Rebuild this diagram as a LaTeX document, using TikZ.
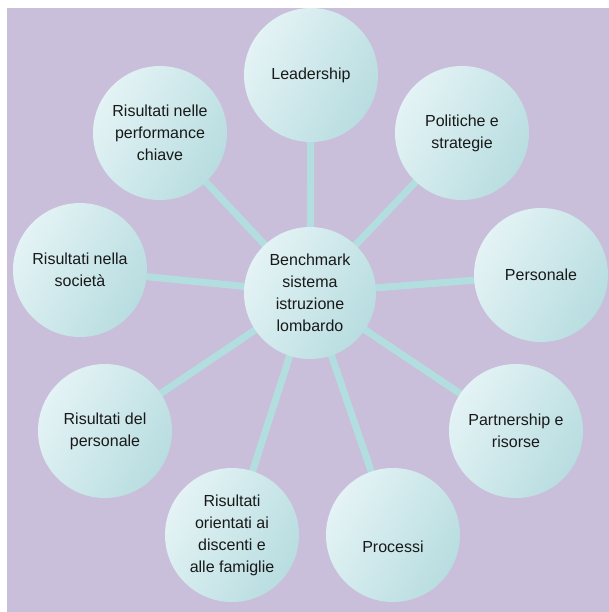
\documentclass[tikz,border=0pt]{standalone}
\usepackage{fontspec}
\setmainfont{Liberation Sans}
\definecolor{bgpurple}{HTML}{C9BFDA}
\definecolor{ballA}{HTML}{E4F3F5}
\definecolor{ballB}{HTML}{B8DDE0}
\definecolor{spoke}{HTML}{B3DEDF}
\begin{document}
\begin{tikzpicture}[x=0.75pt,y=-0.75pt,
  balltext/.style={align=center,font=\fontsize{12pt}{16.5pt}\selectfont,text=black!90},
  ball/.style={circle,minimum size=100.5pt,inner sep=0pt,balltext,
    left color=ballA,right color=ballB,shading angle=60},
  spokeline/.style={draw=spoke,line width=5.25pt}]
\useasboundingbox (0,0) rectangle (609,612);
\fill[white] (0,0) rectangle (609,612);
\fill[bgpurple] (7,8) rectangle (609,612);
% positions
\coordinate (cC) at (310,293);
\coordinate (cL) at (311,75);
\coordinate (cP) at (462,133);
\coordinate (cPe) at (541,275);
\coordinate (cPa) at (516,431);
\coordinate (cPr) at (393,535);
\coordinate (cRo) at (232,535);
\coordinate (cRp) at (105,431);
\coordinate (cRs) at (80,270);
\coordinate (cRk) at (160,133);
% spokes
\foreach \t in {cL,cP,cPe,cPa,cPr,cRo,cRp,cRs,cRk}
  \draw[spokeline] (cC) -- (\t);
% circles
\node[ball] (L) at (cL) {Leadership};
\node[ball] (P) at (cP) {Politiche e\\strategie};
\node[ball] (Pe) at (cPe) {Personale};
\node[ball] (Pa) at (cPa) {Partnership e\\risorse};
\node[ball,label={[balltext,yshift=-9pt]center:Processi}] (Pr) at (cPr) {};
\node[ball] (Ro) at (cRo) {Risultati\\orientati ai\\discenti e\\alle famiglie};
\node[ball] (Rp) at (cRp) {Risultati del\\personale};
\node[ball] (Rs) at (cRs) {Risultati nella\\società};
\node[ball] (Rk) at (cRk) {Risultati nelle\\performance\\chiave};
\node[ball,minimum size=99pt] (C) at (cC) {Benchmark\\sistema\\istruzione\\lombardo};
\end{tikzpicture}
\end{document}
